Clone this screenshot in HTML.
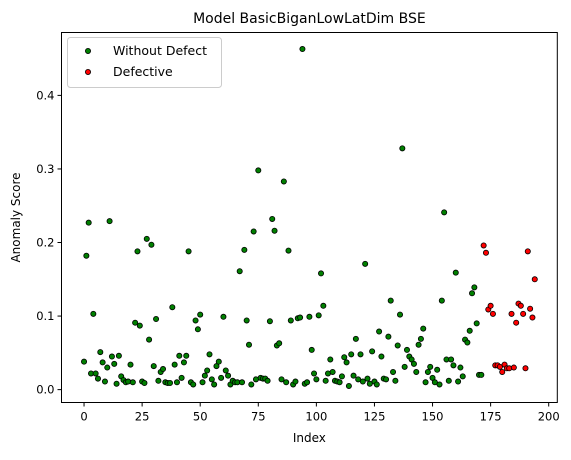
<!DOCTYPE html>
<html><head><meta charset="utf-8"><style>
body{margin:0;background:#fff;}
svg text{font-family:"DejaVu Sans","Liberation Sans",sans-serif;}
</style></head><body>
<svg id="chart" width="571" height="455" viewBox="0 0 571 455" xmlns="http://www.w3.org/2000/svg">
<text x="309.4" y="23" font-size="14" text-anchor="middle" fill="#000">Model BasicBiganLowLatDim BSE</text>
<g id="marks"></g>
<g id="axes"></g>
<rect x="61.5" y="32.5" width="495.8" height="370" fill="none" stroke="#000" stroke-width="1"/>
<text x="309.4" y="442" font-size="12" text-anchor="middle">Index</text>
<text transform="translate(20,217.5) rotate(-90)" font-size="12" text-anchor="middle">Anomaly Score</text>
<g>
<rect x="67.5" y="37.5" width="154" height="50" rx="3" fill="#fff" fill-opacity="0.8" stroke="#ccc"/>
<circle cx="88" cy="51" r="2.6" fill="green" stroke="#000" stroke-width="0.8"/>
<text x="113" y="55" font-size="12.5">Without Defect</text>
<circle cx="88" cy="72" r="2.6" fill="red" stroke="#000" stroke-width="0.8"/>
<text x="113" y="76" font-size="12.5">Defective</text>
</g>
</svg>
<script>
const greenValues=[0.038,0.182,0.227,0.022,0.103,0.022,0.015,0.051,0.037,0.011,0.030,0.229,0.045,0.035,0.008,0.046,0.018,0.013,0.010,0.011,0.034,0.010,0.091,0.188,0.087,0.011,0.009,0.205,0.068,0.197,0.032,0.096,0.012,0.024,0.028,0.010,0.009,0.009,0.112,0.034,0.010,0.046,0.016,0.037,0.046,0.188,0.010,0.007,0.094,0.082,0.102,0.010,0.019,0.026,0.048,0.014,0.007,0.032,0.038,0.016,0.099,0.026,0.019,0.007,0.012,0.010,0.010,0.161,0.010,0.190,0.094,0.061,0.007,0.215,0.014,0.298,0.016,0.015,0.015,0.012,0.093,0.232,0.216,0.060,0.063,0.014,0.283,0.010,0.189,0.094,0.007,0.011,0.097,0.098,0.463,0.008,0.010,0.099,0.054,0.022,0.014,0.101,0.158,0.114,0.012,0.022,0.041,0.024,0.012,0.011,0.010,0.018,0.044,0.037,0.005,0.048,0.019,0.069,0.014,0.048,0.011,0.171,0.015,0.008,0.052,0.011,0.007,0.079,0.045,0.015,0.014,0.072,0.121,0.024,0.012,0.060,0.102,0.328,0.031,0.054,0.045,0.041,0.035,0.024,0.061,0.069,0.083,0.010,0.024,0.031,0.016,0.010,0.027,0.007,0.121,0.241,0.041,0.012,0.041,0.033,0.159,0.011,0.030,0.018,0.068,0.064,0.080,0.131,0.139,0.090,0.020,0.020];
const redStart=172;
const redValues=[0.196,0.186,0.109,0.114,0.103,0.033,0.033,0.031,0.024,0.034,0.029,0.029,0.103,0.030,0.091,0.117,0.114,0.103,0.029,0.188,0.110,0.098,0.150];
const xTicks=[0,25,50,75,100,125,150,175,200];
const yTicks=[0.0,0.1,0.2,0.3,0.4];
const yTickLabels=["0.0","0.1","0.2","0.3","0.4"];

const L=61.5,R=557.3,T=32.5,B=402.5;
const xMin=-9.7,xMax=203.7,yMin=-0.0175,yMax=0.4855;
const xs=v=>L+(v-xMin)/(xMax-xMin)*(R-L);
const ys=v=>B-(v-yMin)/(yMax-yMin)*(B-T);
const NS="http://www.w3.org/2000/svg";
const marks=document.getElementById('marks'),axes=document.getElementById('axes');
function dot(i,v,color,name){
  const c=document.createElementNS(NS,'circle');
  c.setAttribute('cx',xs(i));c.setAttribute('cy',ys(v));c.setAttribute('r',2.6);
  c.setAttribute('fill',color);c.setAttribute('stroke','#000');c.setAttribute('stroke-width',0.8);
  
  
  marks.appendChild(c);
}
greenValues.forEach((v,i)=>dot(i,v,'green','point-without-defect'));
redValues.forEach((v,i)=>dot(redStart+i,v,'red','point-defective'));
xTicks.forEach(t=>{
  const l=document.createElementNS(NS,'line');
  l.setAttribute('x1',xs(t));l.setAttribute('x2',xs(t));l.setAttribute('y1',B);l.setAttribute('y2',B+4);l.setAttribute('stroke','#000');
  
  
  axes.appendChild(l);
  const tx=document.createElementNS(NS,'text');
  tx.setAttribute('x',xs(t));tx.setAttribute('y',B+18);tx.setAttribute('font-size','11.5');tx.setAttribute('text-anchor','middle');
  tx.textContent=t;
  
  
  axes.appendChild(tx);
});
yTicks.forEach((t,k)=>{
  const l=document.createElementNS(NS,'line');
  l.setAttribute('x1',L-4);l.setAttribute('x2',L);l.setAttribute('y1',ys(t));l.setAttribute('y2',ys(t));l.setAttribute('stroke','#000');
  
  
  axes.appendChild(l);
  const tx=document.createElementNS(NS,'text');
  tx.setAttribute('x',L-7);tx.setAttribute('y',ys(t)+4);tx.setAttribute('font-size','11.5');tx.setAttribute('text-anchor','end');
  tx.textContent=yTickLabels[k];
  
  
  axes.appendChild(tx);
});
</script>
</body></html>
